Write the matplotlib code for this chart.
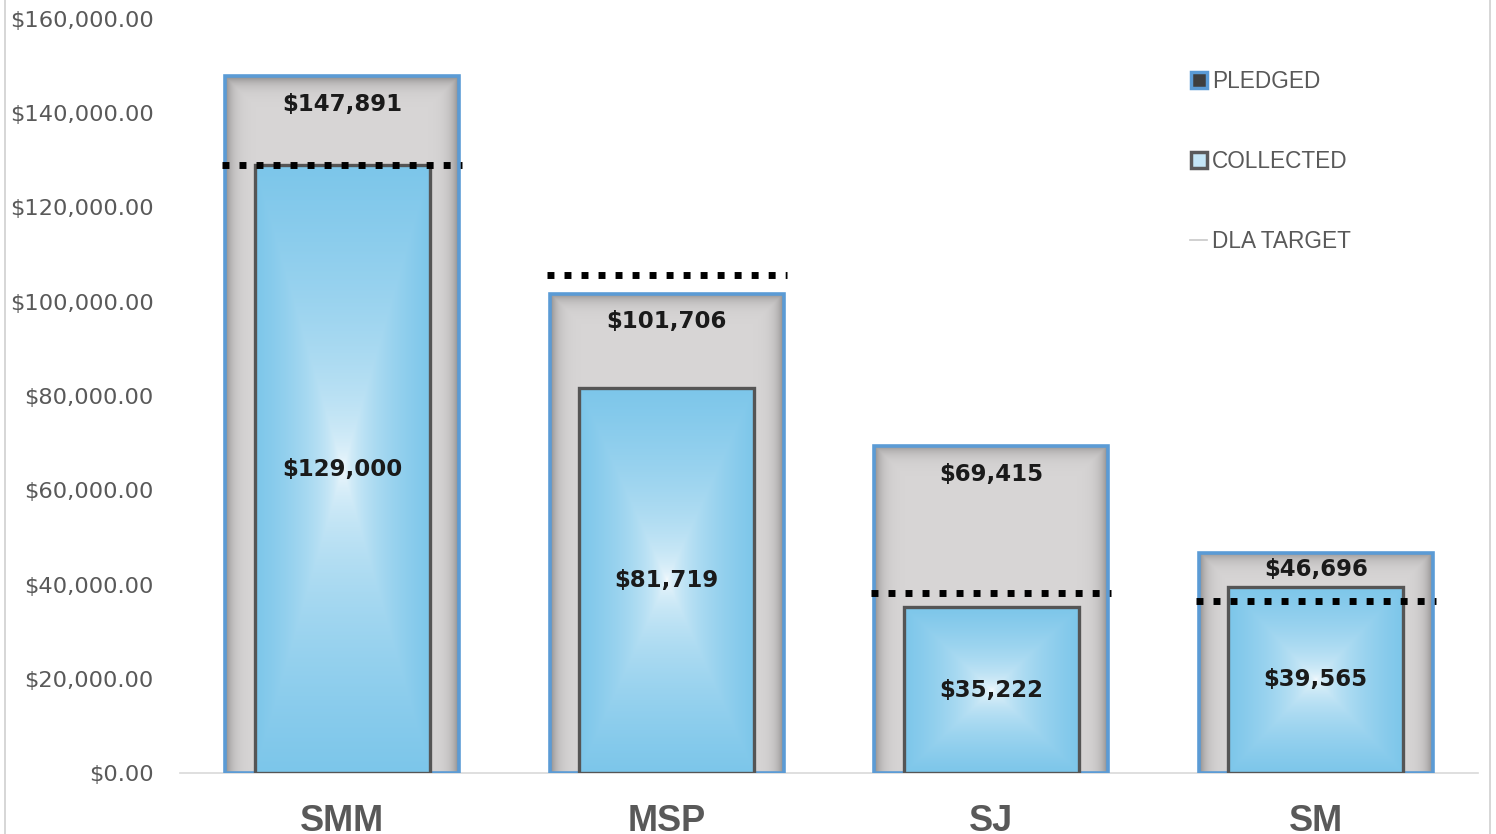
import numpy as np
import matplotlib
matplotlib.use("Agg")
import matplotlib.pyplot as plt
from matplotlib.lines import Line2D
from matplotlib.colors import to_rgb

plt.rcParams['font.family'] = ['DejaVu Sans']

# data
categories = ['SMM', 'MSP', 'SJ', 'SM']
pledged = [147891, 101706, 69415, 46696]
collected = [129000, 81719, 35222, 39565]
dla_target = [129000, 105700, 38200, 36400]

W, H = 1496, 834
fig = plt.figure(figsize=(W / 100, H / 100), dpi=100)
ax = fig.add_axes([180 / W, 61 / H, 1298 / W, 754 / H])

xs = np.arange(len(categories))
XMIN, XMAX, YMAX = -0.5, 3.5, 160000
px_x = 1298 / (XMAX - XMIN)   # pixels per x unit
px_y = 754 / YMAX             # pixels per y unit

w_pl, w_co, w_tg = 0.72, 0.54, 0.74
blue_edge = '#5b9bd5'
gray_light = np.array(to_rgb('#d8d6d6'))
gray_dark = np.array(to_rgb('#8e8c8c'))
sky = np.array(to_rgb('#7cc6ea'))
white = np.array([1.0, 1.0, 1.0])

# pledged bars (gray with inner shadow)
pl_bars = ax.bar(xs, pledged, width=w_pl, facecolor='none', edgecolor=blue_edge,
                 linewidth=2.6, zorder=3)
for x, h, patch in zip(xs, pledged, pl_bars):
    wp, hp = w_pl * px_x, h * px_y
    gx = np.linspace(0, wp, 200)
    gy = np.linspace(0, hp, 400)
    X, Y = np.meshgrid(gx, gy)
    dist = np.minimum.reduce([X, wp - X, hp - Y, Y + 20])
    s = 1 - np.exp(-dist / 7.0)
    img = gray_dark + (gray_light - gray_dark) * s[..., None]
    im = ax.imshow(img, extent=(x - w_pl / 2, x + w_pl / 2, 0, h), origin='lower',
                   aspect='auto', zorder=2, interpolation='bilinear')
    im.set_clip_path(patch)

# collected bars (blue, white from centre)
co_bars = ax.bar(xs, collected, width=w_co, facecolor='none', edgecolor='#555555',
                 linewidth=2.4, zorder=5)
for x, h, patch in zip(xs, collected, co_bars):
    u = np.linspace(-1, 1, 200)
    v = np.linspace(-1, 1, 400)
    U, V = np.meshgrid(u, v)
    d = np.maximum(np.abs(U), np.abs(V))
    t = np.clip(d, 0, 1) ** 0.45
    img = white + (sky - white) * t[..., None]
    im = ax.imshow(img, extent=(x - w_co / 2, x + w_co / 2, 0, h), origin='lower',
                   aspect='auto', zorder=4, interpolation='bilinear')
    im.set_clip_path(patch)

# DLA target
ax.hlines(dla_target, xs - w_tg / 2, xs + w_tg / 2, colors='black', linewidth=5,
          linestyles=(0, (1.0, 1.45)), zorder=6)

# data labels
for x, p, c in zip(xs, pledged, collected):
    ly = p - min(6000, (p - c) / 2) if p > c else p - 6000
    ax.text(x, ly, f'${p:,.0f}', ha='center', va='center', fontsize=16.5,
            fontweight='bold', color='#1a1a1a', zorder=7)
    ax.text(x, c / 2, f'${c:,.0f}', ha='center', va='center', fontsize=16.5,
            fontweight='bold', color='#1a1a1a', zorder=7)

ax.set_xlim(XMIN, XMAX)
ax.set_ylim(0, YMAX)
ax.set_yticks(np.arange(0, 160001, 20000))
ax.set_yticklabels([f'${v:,.2f}' for v in np.arange(0, 160001, 20000)])
ax.set_xticks(xs)
ax.set_xticklabels(categories, family='Liberation Sans', fontweight='bold')
ax.tick_params(axis='y', length=0, pad=19, labelsize=16.2, labelcolor='#595959')
ax.tick_params(axis='x', length=0, pad=22, labelsize=26, labelcolor='#595959')
for s in ['top', 'right', 'left']:
    ax.spines[s].set_visible(False)
ax.spines['bottom'].set_color('#d9d9d9')
ax.spines['bottom'].set_linewidth(1.2)

handles = [
    Line2D([], [], linestyle='none', marker='s', markersize=11, markerfacecolor='#3f3f3f',
           markeredgecolor=blue_edge, markeredgewidth=2.5),
    Line2D([], [], linestyle='none', marker='s', markersize=11, markerfacecolor='#c4e6f6',
           markeredgecolor='#5a5a5a', markeredgewidth=2.5),
    Line2D([], [], color='#c8c8c8', linewidth=1.2),
]
leg = fig.legend(handles, ['PLEDGED', 'COLLECTED', 'DLA TARGET'], loc='upper left',
                 bbox_to_anchor=(1170 / W, 1 - 50 / H), frameon=False,
                 prop={'family': 'Liberation Sans', 'size': 16.3},
                 labelcolor='#595959', handlelength=0.75, handletextpad=0.2,
                 labelspacing=2.5)

# chart frame edges
fig.add_artist(Line2D([5 / W, 5 / W], [0, 1], color='#d0d0d0', linewidth=1.2))
fig.add_artist(Line2D([1490 / W, 1490 / W], [0, 1], color='#d0d0d0', linewidth=1.2))

fig.savefig('out.png', dpi=100)
